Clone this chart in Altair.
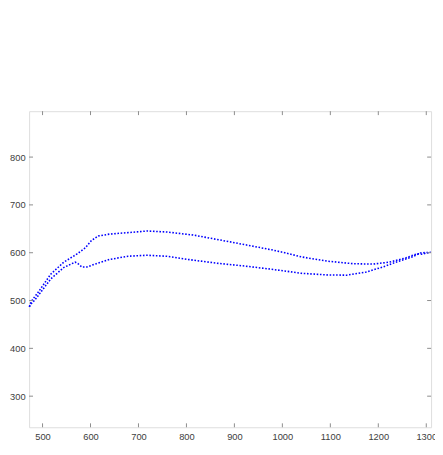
import altair as alt
import pandas as pd

# Upper branch of the loop (x, y)
upper_x = [472.5, 476, 483, 490, 517, 544, 572, 589, 602, 616, 640, 678, 718, 759,
           814, 868, 923, 978, 1005, 1039, 1093, 1148, 1189, 1223, 1257, 1281, 1290, 1309]
upper_y = [487, 497, 507, 516, 555, 580, 597.5, 610, 625.5, 635, 639, 642, 645.4, 643.3,
           637, 627, 616.6, 606, 600, 591.4, 582.4, 577, 576.2, 580.3, 589, 598, 597, 601]

# Lower branch of the loop (x, y)
lower_x = [472.5, 476, 483, 490, 517, 544, 568, 574, 582, 592, 612, 640, 678, 718, 759,
           814, 868, 923, 978, 1005, 1039, 1093, 1134, 1175, 1209, 1243, 1271, 1288, 1309]
lower_y = [487, 493, 500, 509, 545, 569, 580.3, 577, 570, 570, 577, 586, 592.6, 594.7, 592.6,
           584.4, 577.6, 572, 565.3, 561.8, 557, 553.6, 553, 559.8, 570, 582.4, 591.4, 599.6, 601]

x_ticks = [500, 600, 700, 800, 900, 1000, 1100, 1200, 1300]
y_ticks = [300, 400, 500, 600, 700, 800]

X_DOMAIN = [472, 1310]
Y_DOMAIN = [235, 896]
W, H = 409.5, 322
TICK = 4
AXIS_COLOR = "#8c8c8c"
LABEL_COLOR = "#404040"
FONT = "Liberation Sans"
FS = 9.5

rows = []
for i, (x, y) in enumerate(zip(upper_x, upper_y)):
    rows.append({"branch": "upper", "i": i, "x": x, "y": y})
for i, (x, y) in enumerate(zip(lower_x, lower_y)):
    rows.append({"branch": "lower", "i": i, "x": x, "y": y})
df = pd.DataFrame(rows)

xs = alt.Scale(domain=X_DOMAIN, nice=False, zero=False)
ys = alt.Scale(domain=Y_DOMAIN, nice=False, zero=False)

lines = alt.Chart(df).mark_line(
    color="#0000ff", strokeWidth=1.6, strokeDash=[1.6, 1.7], strokeCap="butt"
).encode(
    x=alt.X("x:Q", scale=xs, axis=alt.Axis(values=x_ticks, format="d", ticks=False, domain=False, grid=False,
                                            labelFontSize=FS, labelColor=LABEL_COLOR, labelFont=FONT,
                                            labelPadding=4, labelFlush=False, title=None)),
    y=alt.Y("y:Q", scale=ys, axis=alt.Axis(values=y_ticks, format="d", ticks=False, domain=False, grid=False,
                                            labelFontSize=FS, labelColor=LABEL_COLOR, labelFont=FONT,
                                            labelPadding=4, title=None)),
    detail="branch:N",
    order="i:Q",
)

xt = pd.DataFrame({"t": x_ticks})
yt = pd.DataFrame({"t": y_ticks})

tick_style = dict(color=AXIS_COLOR, strokeWidth=1)
xb = alt.Chart(xt).mark_rule(**tick_style).encode(
    x=alt.X("t:Q", scale=xs), y=alt.value(H), y2=alt.value(H - TICK))
xtp = alt.Chart(xt).mark_rule(**tick_style).encode(
    x=alt.X("t:Q", scale=xs), y=alt.value(0), y2=alt.value(TICK))
yl = alt.Chart(yt).mark_rule(**tick_style).encode(
    y=alt.Y("t:Q", scale=ys), x=alt.value(0), x2=alt.value(TICK))
yr = alt.Chart(yt).mark_rule(**tick_style).encode(
    y=alt.Y("t:Q", scale=ys), x=alt.value(W), x2=alt.value(W - TICK))

chart = alt.layer(lines, xb, xtp, yl, yr).properties(
    width=W, height=H,
    autosize=alt.AutoSizeParams(type="none"),
    padding={"left": 21.5, "top": 101, "right": 4, "bottom": 16},
).configure_view(stroke=AXIS_COLOR, strokeWidth=1).configure(background="white")

chart.save("out.html", embed_options={"renderer": "svg", "actions": False})
